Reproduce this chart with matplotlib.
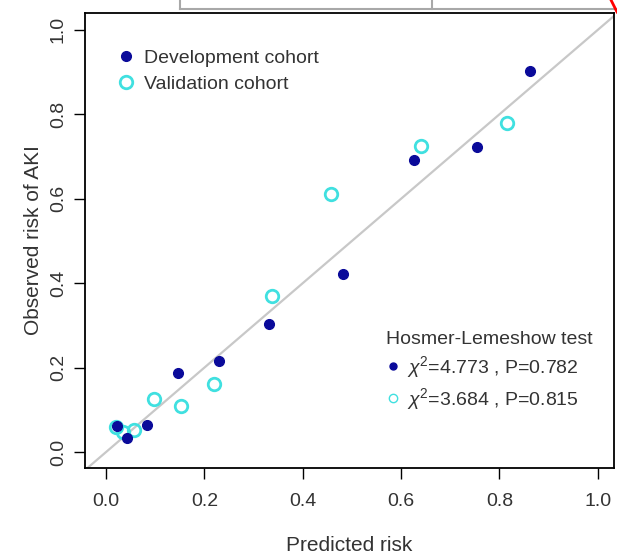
import matplotlib as mpl
import matplotlib.pyplot as plt
from matplotlib.lines import Line2D

mpl.rcParams["font.family"] = ["Liberation Sans", "DejaVu Sans"]
mpl.rcParams["mathtext.fontset"] = "custom"
mpl.rcParams["mathtext.rm"] = "Liberation Sans"
mpl.rcParams["mathtext.it"] = "Liberation Sans:italic"

# Calibration points (predicted vs observed risk)
dev_pred = [0.022, 0.043, 0.083, 0.146, 0.230, 0.331, 0.482, 0.626, 0.754, 0.862]
dev_obs = [0.062, 0.034, 0.064, 0.187, 0.216, 0.304, 0.422, 0.692, 0.723, 0.903]
val_pred = [0.020, 0.035, 0.057, 0.098, 0.152, 0.220, 0.337, 0.457, 0.640, 0.815]
val_obs = [0.058, 0.048, 0.052, 0.126, 0.109, 0.161, 0.370, 0.611, 0.725, 0.780]

ticks = [0.0, 0.2, 0.4, 0.6, 0.8, 1.0]
hl_labels = [r"$\chi^2$=4.773 , P=0.782", r"$\chi^2$=3.684 , P=0.815"]

dev_color = "#0a0a9a"
val_color = "#40e0e0"
text_color = "#333333"

W, H = 617, 555
fig = plt.figure(figsize=(W / 100, H / 100), dpi=100)
ax = fig.add_axes([85 / W, 1 - 468 / H, 529 / W, 455 / H])

# Bits of the neighbouring panel left over from the crop
fig.add_artist(Line2D([180 / W, 1], [1 - 9 / H, 1 - 9 / H], transform=fig.transFigure, color="#a8a8a8", lw=1.5))
fig.add_artist(Line2D([180 / W, 180 / W], [1, 1 - 9 / H], transform=fig.transFigure, color="#a8a8a8", lw=1.5))
fig.add_artist(Line2D([432 / W, 432 / W], [1, 1 - 9 / H], transform=fig.transFigure, color="#a8a8a8", lw=1.5))
fig.add_artist(Line2D([611 / W, 617 / W], [1, 1 - 12 / H], transform=fig.transFigure, color="red", lw=2))

ax.axline((0, 0), slope=1, color="#c8c8c8", lw=1.6, zorder=1)
ax.plot(dev_pred, dev_obs, "o", color=dev_color, ms=7, zorder=3, label="Development cohort")
ax.plot(val_pred, val_obs, "o", mfc="none", mec=val_color, mew=2, ms=9, zorder=2, label="Validation cohort")

ax.set_xlim(-0.043, 1.033)
ax.set_ylim(-0.038, 1.04)
ax.set_xticks(ticks)
ax.set_yticks(ticks)
ax.set_xticklabels([f"{t:.1f}" for t in ticks])
ax.set_yticklabels([f"{t:.1f}" for t in ticks], rotation=90, va="center")
ax.tick_params(direction="out", length=8, width=1, labelsize=14, colors=text_color, pad=5)
ax.tick_params(axis="x", color="black", pad=10)
ax.tick_params(axis="y", color="black")
for s in ax.spines.values():
    s.set_linewidth(1.3)

ax.set_xlabel("Predicted risk", fontsize=15, color=text_color, labelpad=19)
ax.set_ylabel("Observed risk of AKI", fontsize=15, color=text_color, labelpad=5)

leg1 = ax.legend(
    loc="upper left",
    bbox_to_anchor=(0.04, 0.942),
    frameon=False,
    fontsize=14,
    handlelength=1.0,
    handletextpad=0.45,
    labelspacing=0.45,
    borderpad=0,
    labelcolor=text_color,
)
ax.add_artist(leg1)

hl_handles = [
    Line2D([], [], ls="none", marker="o", color=dev_color, ms=5),
    Line2D([], [], ls="none", marker="o", mfc="none", mec=val_color, mew=1, ms=6),
]
leg2 = ax.legend(
    hl_handles,
    hl_labels,
    title="Hosmer-Lemeshow test",
    title_fontsize=14,
    loc="upper left",
    bbox_to_anchor=(0.55, 0.322),
    frameon=False,
    fontsize=14,
    handlelength=0.8,
    handletextpad=0.3,
    labelspacing=0.3,
    borderpad=0,
    alignment="left",
    labelcolor=text_color,
)
leg2.get_title().set_color(text_color)

fig.savefig("out.png", dpi=100)
